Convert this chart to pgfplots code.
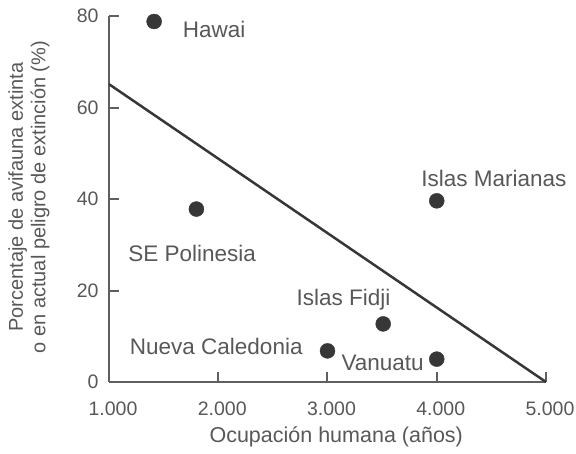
\documentclass[border=0pt]{standalone}
\usepackage{pgfplots}
\pgfplotsset{compat=1.18}
\usepackage{fontspec}
\setmainfont{Liberation Sans}
\definecolor{txt}{RGB}{88,88,88}
\definecolor{axc}{RGB}{95,95,95}
\definecolor{dk}{RGB}{55,55,55}
\begin{document}
\begin{tikzpicture}
\begin{axis}[
  scale only axis, width=437pt, height=366pt,
  xmin=1000, xmax=5000, ymin=0, ymax=80,
  axis lines=left, axis line style={-, line width=2.2pt, color=axc},
  tick align=inside, major tick length=10pt,
  tick style={line width=2pt, color=axc},
  xtick={1000,2000,3000,4000,5000},
  xticklabels={1.000,2.000,3.000,4.000,5.000},
  ytick={0,20,40,60,80},
  /pgf/number format/assume math mode=true,
  ticklabel style={font=\fontsize{19.5}{22}\selectfont, text=txt},
  xticklabel style={yshift=-16pt, xshift=4pt},
  yticklabel style={xshift=-7pt},
  xlabel={Ocupación humana (años)},
  xlabel style={at={(axis description cs:0.52,-0.150)}, anchor=center, font=\fontsize{21.5}{23}\selectfont, text=txt},
  ylabel={Porcentaje de avifauna extinta\\o en actual peligro de extinción (\%)},
  ylabel style={at={(axis description cs:-0.183,0.505)}, anchor=center, align=center, font=\fontsize{20}{22.5}\selectfont, text=txt},
  clip=false,
]
\addplot[only marks, mark=*, mark size=7.5pt, color=dk] coordinates {
  (1413,78.8) (1800,37.8) (4000,39.6) (3510,12.7) (3000,6.8) (4000,5.0)
};
\addplot[line width=2.5pt, color=dk] coordinates {(1000,65.1) (5000,0)};
\coordinate (o) at (axis cs:1000,0);
\begin{scope}[every node/.style={font=\fontsize{22.5}{24}\selectfont, text=txt}]
\node at (axis cs:1963,77) {Hawai};
\node at (axis cs:4523,44.6) {Islas Marianas};
\node at (axis cs:1761,28) {SE Polinesia};
\node at (axis cs:3147,17.9) {Islas Fidji};
\node at (axis cs:1982,7.7) {Nueva Caledonia};
\node at (axis cs:3505,4.2) {Vanuatu};
\end{scope}
\end{axis}
\pgfresetboundingbox
\path[use as bounding box] (o) ++(-109pt,-71pt) rectangle ++(576pt,453pt);
\end{tikzpicture}
\end{document}
